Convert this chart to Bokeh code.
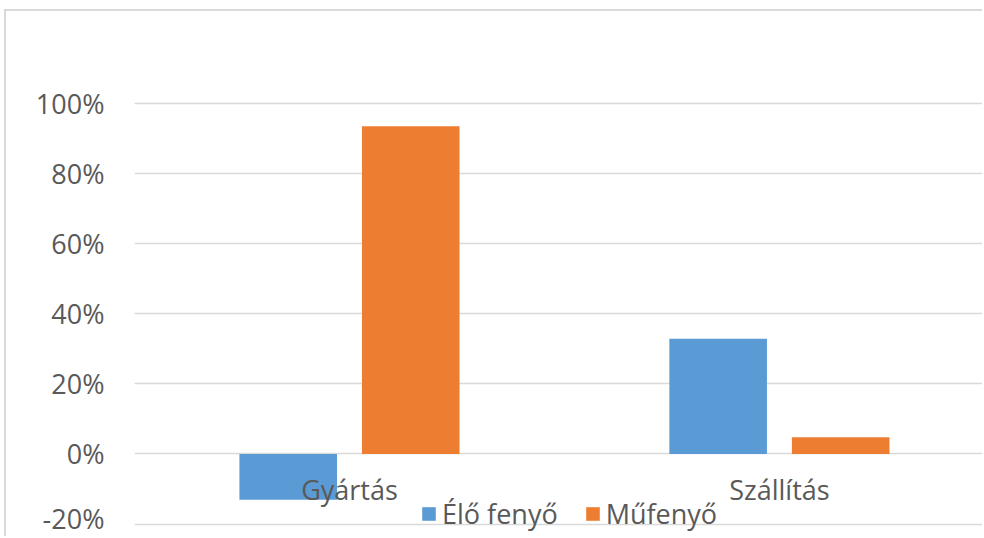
from bokeh.plotting import figure
from bokeh.models import (ColumnDataSource, Range1d, FixedTicker, NumeralTickFormatter,
                          Legend, LegendItem)
from bokeh.transform import dodge
from bokeh.core.properties import value
from bokeh.embed import file_html
from bokeh.resources import INLINE

# ---- data ----
categories = ["Gyártás", "Szállítás"]
elo_fenyo = [-0.131, 0.329]
mufenyo = [0.936, 0.048]
series_names = ["Élő fenyő", "Műfenyő"]
y_ticks = [-0.2, 0.0, 0.2, 0.4, 0.6, 0.8, 1.0]

cat_pos = [i + 0.5 for i in range(len(categories))]
src = ColumnDataSource(dict(x=cat_pos, cat=categories, elo=elo_fenyo, mu=mufenyo,
                            zero=[0.0] * len(categories)))

FONT = "Open Sans"
FS = "27px"
TXT = "#595959"
GRID = "#d9d9d9"

p = figure(width=978, height=527, output_backend="svg", toolbar_location=None,
           x_range=Range1d(0, 1.977), y_range=Range1d(-0.2414, 1.264),
           min_border_left=128, min_border_right=0, min_border_top=0, min_border_bottom=0)
p.styles = {"margin-left": "4px", "margin-top": "9px",
            "border-top": "2px solid #d9d9d9", "border-left": "2px solid #d9d9d9"}

p.outline_line_color = None
p.background_fill_color = "white"
p.border_fill_color = "white"

p.xaxis.visible = False
p.xgrid.visible = False

p.yaxis.ticker = FixedTicker(ticks=y_ticks)
p.yaxis.formatter = NumeralTickFormatter(format="0%")
p.yaxis.axis_line_color = None
p.yaxis.major_tick_line_color = None
p.yaxis.minor_tick_line_color = None
p.yaxis.major_tick_out = 0
p.yaxis.major_tick_in = 0
p.yaxis.major_label_standoff = 30
p.yaxis.major_label_text_font = FONT
p.yaxis.major_label_text_font_size = FS
p.yaxis.major_label_text_color = TXT

p.ygrid.ticker = FixedTicker(ticks=y_ticks)
p.ygrid.grid_line_color = GRID
p.ygrid.grid_line_width = 1.5

bw = 0.227
off = 0.1425
r1 = p.vbar(x=dodge("x", -off, range=p.x_range), top="elo", bottom=0, width=bw, source=src,
            fill_color="#5B9BD5", line_color=None)
r2 = p.vbar(x=dodge("x", off, range=p.x_range), top="mu", bottom=0, width=bw, source=src,
            fill_color="#ED7D31", line_color=None)

p.text(x="x", y="zero", text="cat", source=src, y_offset=36,
       text_align="center", text_baseline="middle",
       text_font=value(FONT), text_font_size=FS, text_color=TXT)

legend = Legend(items=[LegendItem(label=series_names[0], renderers=[r1]),
                       LegendItem(label=series_names[1], renderers=[r2])],
                orientation="horizontal", location=(286, 6))
legend.padding = 0
legend.margin = 0
legend.spacing = 26
legend.glyph_width = 17
legend.glyph_height = 17
legend.label_standoff = 5
legend.label_text_font = FONT
legend.label_text_font_size = FS
legend.label_text_color = TXT
legend.border_line_color = None
legend.background_fill_alpha = 0
p.add_layout(legend, "center")

open("out.html", "w").write(file_html(p, INLINE))
